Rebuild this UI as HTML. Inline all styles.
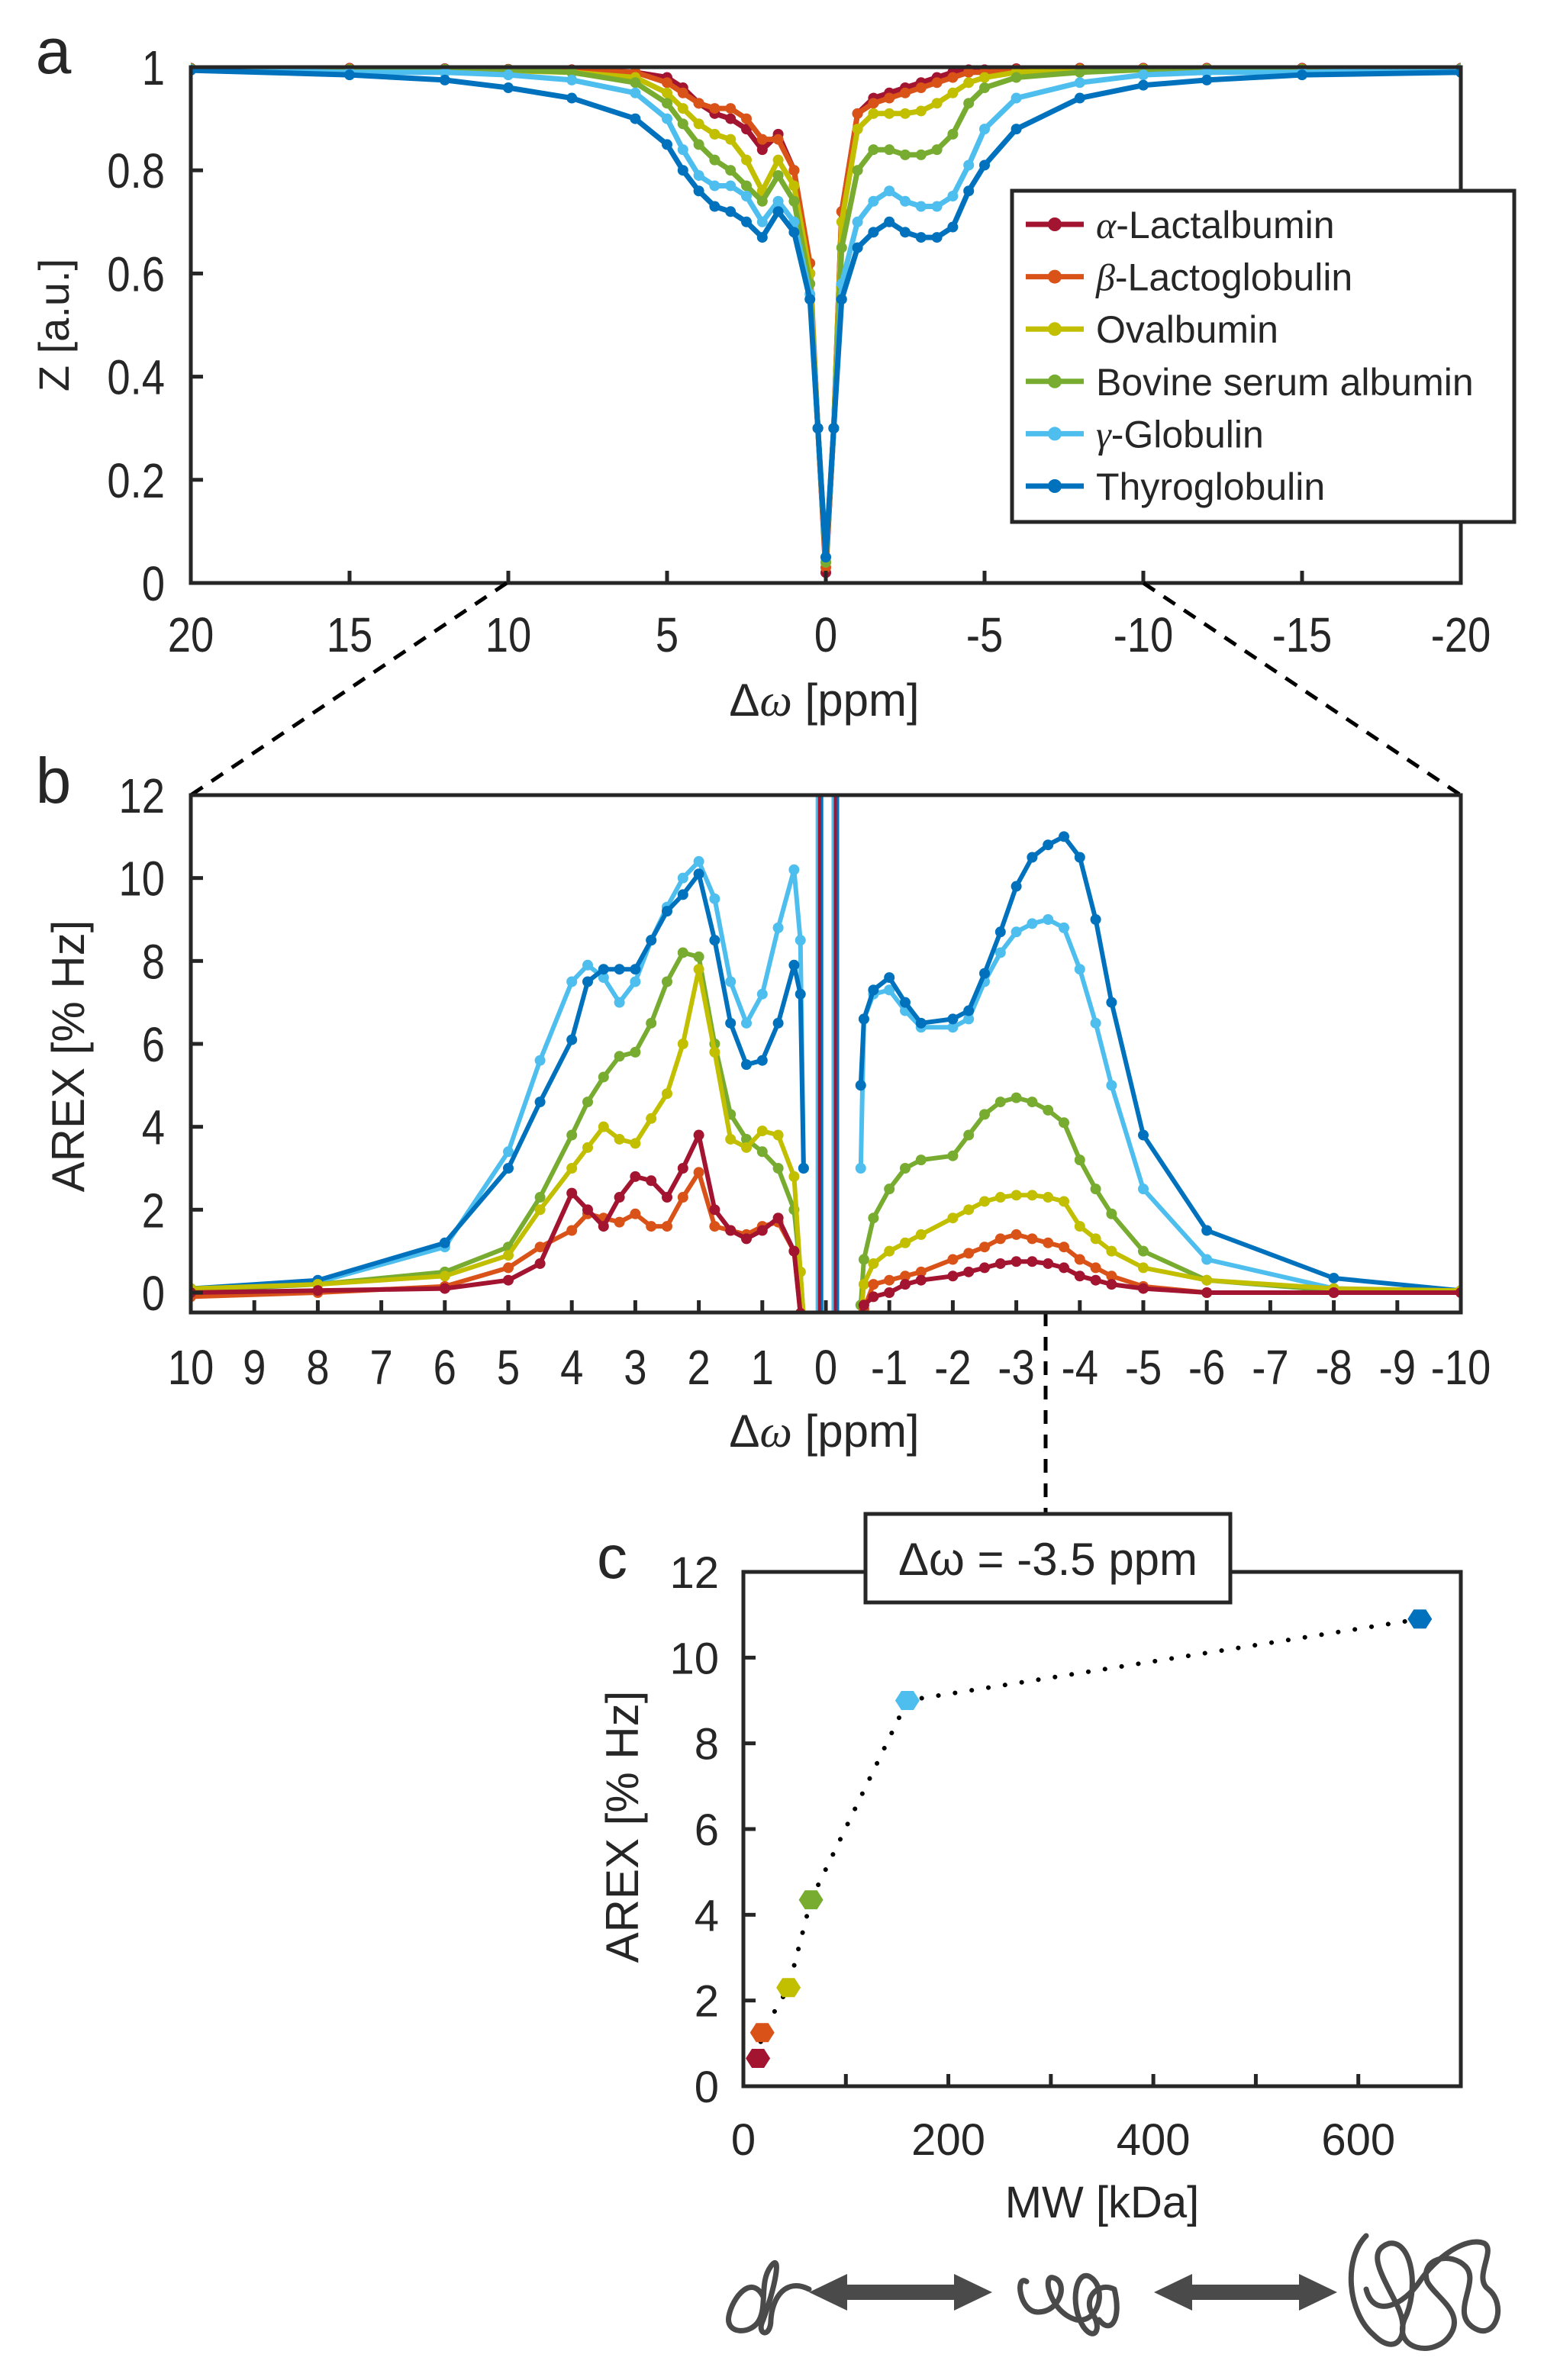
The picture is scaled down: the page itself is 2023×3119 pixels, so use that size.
<!DOCTYPE html>
<html><head><meta charset="utf-8"><style>
html,body{margin:0;padding:0;background:#fff;}
svg{display:block;}
text{font-family:"Liberation Sans",sans-serif;fill:#262626;}
</style></head>
<body>
<svg id="fig" width="2023" height="3119" viewBox="0 0 2023 3119" xmlns="http://www.w3.org/2000/svg"></svg>
<script>
// ---------- DATA ----------
const seriesNames = ["α-Lactalbumin","β-Lactoglobulin","Ovalbumin","Bovine serum albumin","γ-Globulin","Thyroglobulin"];
const seriesColors = ["#A2142F","#D95319","#C2BE00","#77AC30","#4DBEEE","#0072BD"];

// Panel a: Z-spectra
const zOffsets = [20,15,12,10,8,6,5,4.5,4,3.5,3,2.5,2,1.5,1,0.5,0.25,0,-0.25,-0.5,-1,-1.5,-2,-2.5,-3,-3.5,-4,-4.5,-5,-6,-8,-10,-12,-15,-20];
const zAlpha = [0.998,0.998,0.997,0.996,0.995,0.99,0.98,0.96,0.93,0.91,0.90,0.88,0.84,0.87,0.80,0.60,0.30,0.02,0.30,0.72,0.91,0.94,0.95,0.96,0.97,0.98,0.99,0.995,0.995,0.997,0.998,0.998,0.998,0.998,0.998];
const zBeta  = [0.997,0.997,0.996,0.995,0.994,0.99,0.97,0.95,0.93,0.92,0.92,0.90,0.86,0.86,0.80,0.62,0.30,0.03,0.30,0.72,0.91,0.93,0.94,0.95,0.96,0.97,0.98,0.99,0.99,0.995,0.997,0.997,0.997,0.997,0.997];
const zOva   = [0.996,0.995,0.994,0.993,0.99,0.98,0.95,0.92,0.89,0.87,0.86,0.82,0.76,0.82,0.77,0.60,0.30,0.04,0.30,0.70,0.88,0.91,0.91,0.91,0.915,0.93,0.95,0.97,0.98,0.99,0.995,0.996,0.996,0.996,0.996];
const zBsa   = [0.997,0.996,0.996,0.995,0.99,0.97,0.93,0.89,0.85,0.82,0.80,0.77,0.74,0.79,0.74,0.58,0.30,0.04,0.30,0.65,0.80,0.84,0.84,0.83,0.83,0.84,0.87,0.93,0.96,0.98,0.99,0.995,0.996,0.996,0.997];
const zGamma = [0.995,0.99,0.99,0.985,0.975,0.95,0.90,0.84,0.79,0.77,0.77,0.75,0.70,0.74,0.70,0.56,0.30,0.05,0.30,0.58,0.70,0.74,0.76,0.74,0.73,0.73,0.75,0.81,0.88,0.94,0.97,0.985,0.99,0.99,0.995];
const zThyro = [0.994,0.985,0.975,0.96,0.94,0.90,0.85,0.80,0.76,0.73,0.72,0.70,0.67,0.72,0.68,0.55,0.30,0.05,0.30,0.55,0.65,0.68,0.70,0.68,0.67,0.67,0.69,0.76,0.81,0.88,0.94,0.965,0.975,0.985,0.99];
const zSeries = [zAlpha,zBeta,zOva,zBsa,zGamma,zThyro];
const zXTicks = [20,15,10,5,0,-5,-10,-15,-20];
const zYTicks = [0,0.2,0.4,0.6,0.8,1];

// Panel b: AREX spectra
const arexOffLeft = [10,8,6,5,4.5,4,3.75,3.5,3.25,3,2.75,2.5,2.25,2,1.75,1.5,1.25,1,0.75,0.5,0.4,0.35];
const arexOffRight = [-0.55,-0.6,-0.75,-1,-1.25,-1.5,-2,-2.25,-2.5,-2.75,-3,-3.25,-3.5,-3.75,-4,-4.25,-4.5,-5,-6,-8,-10];
const arexAlphaL = [0.0,0.05,0.1,0.3,0.7,2.4,2.0,1.6,2.3,2.8,2.7,2.3,3.0,3.8,2.0,1.5,1.3,1.5,1.8,1.0,-0.5,-0.6];
const arexAlphaR = [-0.6,-0.3,-0.1,0.0,0.2,0.3,0.4,0.5,0.6,0.7,0.75,0.75,0.7,0.6,0.4,0.3,0.2,0.1,0.0,0.0,0.0];
const arexBetaL  = [-0.1,0.0,0.15,0.6,1.1,1.5,1.9,1.8,1.7,1.9,1.6,1.6,2.3,2.9,1.6,1.5,1.4,1.6,1.7,1.0,-0.5,-0.6];
const arexBetaR  = [-0.6,-0.4,0.2,0.3,0.4,0.5,0.8,0.95,1.1,1.3,1.4,1.3,1.2,1.1,0.8,0.6,0.4,0.15,0.0,0.0,0.0];
const arexOvaL   = [0.1,0.2,0.4,0.9,2.0,3.0,3.5,4.0,3.7,3.6,4.2,4.8,6.0,7.8,5.8,3.7,3.5,3.9,3.8,2.8,0.5,-0.6];
const arexOvaR   = [-0.6,0.2,0.7,1.0,1.2,1.4,1.8,2.0,2.2,2.3,2.35,2.35,2.3,2.2,1.6,1.3,1.0,0.6,0.3,0.1,0.05];
const arexBsaL   = [0.05,0.2,0.5,1.1,2.3,3.8,4.6,5.2,5.7,5.8,6.5,7.5,8.2,8.1,6.0,4.3,3.7,3.4,3.0,2.0,0.5,-0.6];
const arexBsaR   = [-0.3,0.8,1.8,2.5,3.0,3.2,3.3,3.8,4.3,4.6,4.7,4.6,4.4,4.1,3.2,2.5,1.9,1.0,0.3,0.05,0.02];
const arexGammaL = [0.1,0.25,1.1,3.4,5.6,7.5,7.9,7.6,7.0,7.5,8.5,9.3,10.0,10.4,9.5,7.5,6.5,7.2,8.8,10.2,8.5,3.0];
const arexGammaR = [3.0,6.6,7.2,7.3,6.8,6.4,6.4,6.6,7.5,8.2,8.7,8.9,9.0,8.8,7.8,6.5,5.0,2.5,0.8,0.1,0.05];
const arexThyroL = [0.1,0.3,1.2,3.0,4.6,6.1,7.5,7.8,7.8,7.8,8.5,9.2,9.6,10.1,8.5,6.5,5.5,5.6,6.5,7.9,7.2,3.0];
const arexThyroR = [5.0,6.6,7.3,7.6,7.0,6.5,6.6,6.8,7.7,8.7,9.8,10.5,10.8,11.0,10.5,9.0,7.0,3.8,1.5,0.35,0.05];
const arexLeft = [arexAlphaL,arexBetaL,arexOvaL,arexBsaL,arexGammaL,arexThyroL];
const arexRight = [arexAlphaR,arexBetaR,arexOvaR,arexBsaR,arexGammaR,arexThyroR];
const spikeOffsets = [0.1,-0.15];
const arexXTicks = [10,9,8,7,6,5,4,3,2,1,0,-1,-2,-3,-4,-5,-6,-7,-8,-9,-10];
const arexYTicks = [0,2,4,6,8,10,12];

// Panel c: AREX at -3.5 ppm vs MW
const mwValues = [14.2,18.4,44,66,160,660];
const arexAtPeak = [0.65,1.25,2.3,4.35,9.0,10.9];
const mwXTicks = [0,200,400,600];
const mwMinorTicks = [100,300,500];
const cYTicks = [0,2,4,6,8,10,12];

// ---------- HELPERS ----------
const NS = "http://www.w3.org/2000/svg";
const svg = document.getElementById("fig");
function el(tag, attrs, parent){
  const e = document.createElementNS(NS, tag);
  for (const k in attrs) e.setAttribute(k, attrs[k]);
  (parent||svg).appendChild(e);
  return e;
}
function txt(s, x, y, size, anchor, parent, sx){
  const t = el("text", {x:0, y:0, "font-size":size, "text-anchor":anchor||"middle",
    transform:`translate(${x},${y}) scale(${sx||1},1)`}, parent);
  t.textContent = s;
  return t;
}
function linear(d0,d1,r0,r1){ return v => r0 + (v-d0)/(d1-d0)*(r1-r0); }

// ---------- PANEL A ----------
const ax = {x0:250, x1:1914, y0:88, y1:764};
const aX = linear(20,-20,ax.x0,ax.x1);
const aY = linear(0,1,ax.y1,ax.y0);
const gA = el("g",{});


el("defs",{}).innerHTML = `<clipPath id="clipA"><rect x="${ax.x0}" y="${ax.y0-10}" width="${ax.x1-ax.x0}" height="${ax.y1-ax.y0+12}"/></clipPath>
<clipPath id="clipB"><rect x="250" y="1042" width="1664" height="678"/></clipPath>`;
const aData = el("g",{"clip-path":"url(#clipA)"},gA);


zSeries.forEach((vals,si)=>{
  const pts = zOffsets.map((o,i)=>`${aX(o).toFixed(1)},${aY(vals[i]).toFixed(1)}`).join(" ");
  const pl = el("polyline",{points:pts, fill:"none", stroke:seriesColors[si], "stroke-width":7, "stroke-linejoin":"round"}, aData);
  
  
  zOffsets.forEach((o,i)=>{
    const c = el("circle",{cx:aX(o), cy:aY(vals[i]), r:7, fill:seriesColors[si]}, aData);
    
    
  });
});
const aBox = el("path",{d:`M${ax.x0},${ax.y0}H${ax.x1}V${ax.y1}H${ax.x0}Z`, fill:"none", stroke:"#262626", "stroke-width":5}, gA);


zXTicks.forEach(v=>{
  el("line",{x1:aX(v),x2:aX(v),y1:ax.y1,y2:ax.y1-16,stroke:"#262626","stroke-width":5},gA);
  const t = txt(String(v), aX(v), 854, 64, "middle", gA, 0.85);
  
  
});
zYTicks.forEach(v=>{
  el("line",{x1:ax.x0,x2:ax.x0+16,y1:aY(v),y2:aY(v),stroke:"#262626","stroke-width":5},gA);
  const t = txt(String(v), 216, aY(v)+23, 64, "end", gA, 0.85);
  
  
});
let t;
t = txt("Z [a.u.]", 0, 0, 56, "middle", gA);
t.setAttribute("transform","translate(90,426) rotate(-90)");


t = el("text",{x:1080,y:938,"font-size":60,"text-anchor":"middle"},gA);
t.innerHTML = 'Δ<tspan font-style="italic" font-family="Liberation Serif">ω</tspan> [ppm]';


t = txt("a", 70, 96, 84, "middle", svg);



// legend
const leg = el("g",{},gA);


el("rect",{x:1326,y:250,width:658,height:434,fill:"#fff",stroke:"#262626","stroke-width":5},leg);
seriesNames.forEach((n,i)=>{
  const y = 294 + i*68.6;
  const ent = el("g",{},leg);
  
  
  el("line",{x1:1344,x2:1420,y1:y,y2:y,stroke:seriesColors[i],"stroke-width":7},ent);
  el("circle",{cx:1382,cy:y,r:9,fill:seriesColors[i]},ent);
  const tt = el("text",{x:1436,y:y+18,"font-size":50},ent);
  if (n[1]==="-") tt.innerHTML = `<tspan font-style="italic" font-family="Liberation Serif">${n[0]}</tspan>${n.slice(1)}`;
  else tt.textContent = n;
});

// zoom dashed lines
["M664,764L250,1042","M1498,764L1914,1042","M1370,1720L1370,1984"].forEach(d=>{
  const p = el("path",{d:d,stroke:"#000","stroke-width":5,"stroke-dasharray":"18,14",fill:"none"});
  
  
});

// ---------- PANEL B ----------
const bx = {x0:250,x1:1914,y0:1042,y1:1720};
const bX = linear(10,-10,bx.x0,bx.x1);
const bY = linear(0,12,1694,1042);
const gB = el("g",{});


const bData = el("g",{"clip-path":"url(#clipB)"},gB);


[4,5,3,2,1,0].forEach(si=>{
  [[arexOffLeft,arexLeft[si]],[arexOffRight,arexRight[si]]].forEach(([xs,ys])=>{
    const pts = xs.map((o,i)=>`${bX(o).toFixed(1)},${bY(ys[i]).toFixed(1)}`).join(" ");
    const pl = el("polyline",{points:pts,fill:"none",stroke:seriesColors[si],"stroke-width":6,"stroke-linejoin":"round"},bData);
    
    
    xs.forEach((o,i)=>{
      const c = el("circle",{cx:bX(o),cy:bY(ys[i]),r:7,fill:seriesColors[si]},bData);
      
      
    });
  });
});
spikeOffsets.forEach(o=>{
  [[4,-3],[5,3],[0,0]].forEach(([si,dx])=>{
    const l = el("line",{x1:bX(o)+dx,x2:bX(o)+dx,y1:bx.y1,y2:bx.y0,stroke:seriesColors[si],"stroke-width":4},bData);
    
    
  });
});
const bBox = el("path",{d:`M${bx.x0},${bx.y0}H${bx.x1}V${bx.y1}H${bx.x0}Z`,fill:"none",stroke:"#262626","stroke-width":5},gB);


arexXTicks.forEach(v=>{
  el("line",{x1:bX(v),x2:bX(v),y1:bx.y1,y2:bx.y1-16,stroke:"#262626","stroke-width":5},gB);
  const t2 = txt(String(v), bX(v), 1814, 64, "middle", gB, 0.85);
  
  
});
arexYTicks.forEach(v=>{
  el("line",{x1:bx.x0,x2:bx.x0+16,y1:bY(v),y2:bY(v),stroke:"#262626","stroke-width":5},gB);
  const t2 = txt(String(v), 216, bY(v)+23, 64, "end", gB, 0.85);
  
  
});
t = txt("AREX [% Hz]", 0, 0, 60, "middle", gB);
t.setAttribute("transform","translate(110,1384) rotate(-90)");


t = el("text",{x:1080,y:1896,"font-size":60,"text-anchor":"middle"},gB);
t.innerHTML = 'Δ<tspan font-style="italic" font-family="Liberation Serif">ω</tspan> [ppm]';


t = txt("b", 70, 1052, 84, "middle", svg);



// ---------- PANEL C ----------
const cx = {x0:974,x1:1914,y0:2060,y1:2734};
const cX = linear(0,700,cx.x0,cx.x1);
const cY = linear(0,12,cx.y1,cx.y0);
const gC = el("g",{});


const cBox = el("path",{d:`M${cx.x0},${cx.y0}H${cx.x1}V${cx.y1}H${cx.x0}Z`,fill:"none",stroke:"#262626","stroke-width":5},gC);


mwXTicks.concat(mwMinorTicks).forEach(v=>{
  el("line",{x1:cX(v),x2:cX(v),y1:cx.y1,y2:cx.y1-16,stroke:"#262626","stroke-width":5},gC);
});
mwXTicks.forEach(v=>{
  const t2 = txt(String(v), cX(v), 2824, 58, "middle", gC);
  
  
});
cYTicks.forEach(v=>{
  el("line",{x1:cx.x0,x2:cx.x0+16,y1:cY(v),y2:cY(v),stroke:"#262626","stroke-width":5},gC);
  const t2 = txt(String(v), 942, cY(v)+21, 58, "end", gC);
  
  
});
const dots = mwValues.map((m,i)=>`${cX(m).toFixed(1)},${cY(arexAtPeak[i]).toFixed(1)}`).join(" ");
const dl = el("polyline",{points:dots,fill:"none",stroke:"#000","stroke-width":6,"stroke-dasharray":"0.1,22","stroke-linecap":"round"},gC);


mwValues.forEach((m,i)=>{
  const X = cX(m), Y = cY(arexAtPeak[i]), r = 16;
  let p = "";
  for (let k=0;k<6;k++){ const a = Math.PI/3*k; p += `${(X+r*Math.cos(a)).toFixed(1)},${(Y+r*0.9*Math.sin(a)).toFixed(1)} `; }
  const h = el("polygon",{points:p,fill:seriesColors[i]},gC);
  
  
});
const boxG = el("g",{},gC);


el("rect",{x:1134,y:1984,width:478,height:116,fill:"#fff",stroke:"#262626","stroke-width":5},boxG);
txt("Δω = -3.5 ppm", 1373, 2064, 60, "middle", boxG);
t = txt("AREX [% Hz]", 0, 0, 60, "middle", gC);
t.setAttribute("transform","translate(836,2394) rotate(-90)");


t = txt("MW [kDa]", 1444, 2906, 58, "middle", gC);


t = txt("c", 802, 2068, 80, "middle", svg);



// ---------- size cartoons ----------
const cart = el("g",{fill:"none",stroke:"#4a4a4a","stroke-width":7,"stroke-linecap":"round","stroke-linejoin":"round"});


el("path",{d:"M1000,3010 C985,2980 960,3010 955,3035 C950,3060 985,3060 995,3040 C1005,3020 995,2990 1010,2970 C1025,2950 1015,3000 1000,3040 C990,3060 1010,3065 1010,3040 C1012,3010 1030,2985 1060,3000"},cart);
el("path",{d:"M1345,2990 C1330,2980 1335,3030 1360,3030 C1390,3030 1400,2990 1380,2985 C1365,2980 1375,3030 1410,3040 C1440,3045 1450,3000 1430,2985 C1410,2970 1400,3020 1420,3050 C1435,3070 1445,3050 1430,3030 C1420,3010 1440,2990 1460,3000 C1470,3040 1455,3060 1440,3040"},cart);
el("path",{d:"M1790,2930 C1760,2960 1765,3030 1800,3060 C1830,3090 1850,3060 1830,3020 C1810,2980 1790,2950 1820,2940 C1850,2935 1860,3000 1840,3040 C1825,3080 1880,3090 1900,3060 C1920,3030 1880,3010 1870,2990 C1860,2960 1900,2950 1920,2970 C1940,2990 1900,3030 1930,3050 C1960,3070 1975,3020 1950,3000 C1930,2985 1960,2950 1945,2940 C1920,2930 1880,2960 1860,2990 C1840,3020 1800,3040 1790,3000"},cart);
[[1060,1300],[1512,1752]].forEach(([a,b])=>{
  const ar = el("path",{d:`M${a},3004 L${a+50},2980 L${a+50},2994 L${b-50},2994 L${b-50},2980 L${b},3004 L${b-50},3028 L${b-50},3014 L${a+50},3014 L${a+50},3028 Z`,fill:"#4a4a4a",stroke:"none"});
  
  
});
</script>
</body></html>
